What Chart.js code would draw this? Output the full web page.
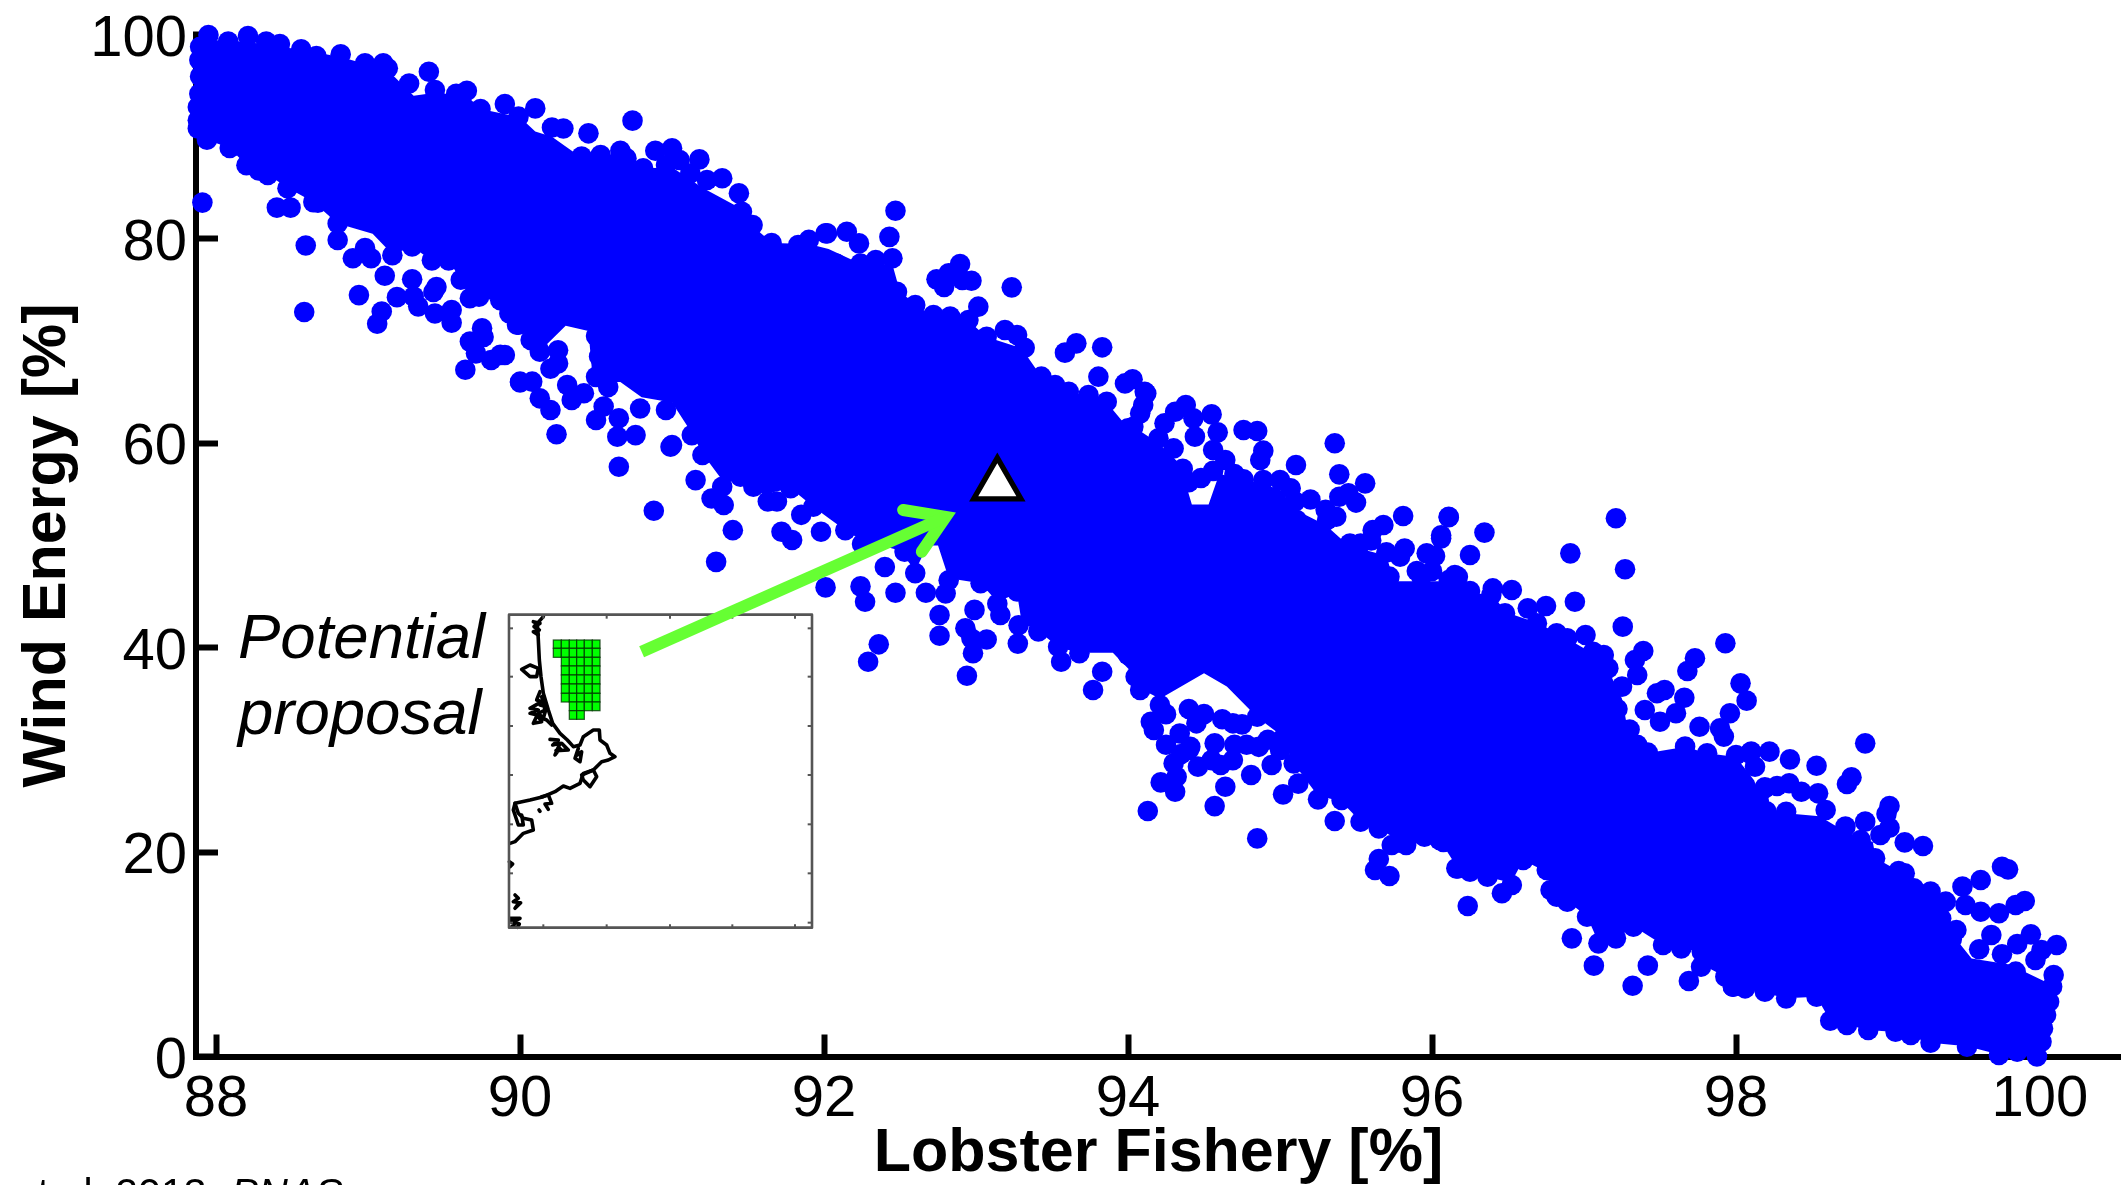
<!DOCTYPE html>
<html>
<head>
<meta charset="utf-8">
<title>Lobster Fishery vs Wind Energy</title>
<script src="https://cdn.jsdelivr.net/npm/chart.js@4"></script>
<style>
  html, body { margin: 0; padding: 0; background: #fff; overflow: hidden; }
  canvas { display: block; }
</style>
</head>
<body>
<canvas id="chart" width="2121" height="1185"></canvas>
<script>
const xTicks = [88, 90, 92, 94, 96, 98, 100];
const yTicks = [0, 20, 40, 60, 80, 100];

// individual dots, left to right along the cloud
const dots88to90 = [
  [87.95,99.95],[88.08,99.3],[88.21,99.85],[88.33,99.3],[88.42,99.07],[88.56,98.55],[88.66,97.9],[88.82,98.06],
  [88.98,97.18],[89.10,97.18],[89.13,96.7],[89.27,95.2],[89.40,96.36],[89.44,94.57],[89.58,94.2],[89.65,94.5],
  [89.74,92.7],[89.90,93.2],[89.99,91.96],[87.895,98.8],[87.89,97.5],[87.895,95.9],[87.89,94.2],[87.88,92.9],
  [87.88,91.6],[87.88,90.8],[87.94,89.7],[88.09,88.9],[88.20,87.2],[88.28,86.7],[88.34,86.25],[88.47,84.95],
  [88.40,83.06],[88.49,83.06],[88.64,83.6],[88.67,83.55],[88.80,81.5],[88.80,79.9],[88.98,79.1],[88.90,78.1],
  [89.02,78.1],[89.16,78.4],[89.11,76.4],[89.29,76.05],[89.29,79.25],[89.42,77.9],[89.45,75.3],[89.43,74.8],
  [89.19,74.3],[89.30,74.35],[89.33,73.4],[88.94,74.5],[89.09,72.9],[89.06,71.7],[89.44,72.7],[89.55,73.05],
  [89.55,71.8],[88.59,79.35],[88.58,72.85],[87.91,83.55],[89.67,69.95],[89.75,71.25],[89.76,70.4],[89.71,68.8],
  [89.81,68.15],[89.87,68.65],[89.64,67.2],[90.0,65.95],[89.67,74.2],[89.73,74.35],[89.87,74.0],[89.93,72.7],
  [89.99,71.6],[89.53,77.9],[89.61,76.0]
];
const dots90to92 = [
  [90.10,92.77],[90.21,90.9],[90.285,90.8],[90.45,90.33],[90.405,88.05],[90.53,88.2],[90.66,88.63],[90.70,87.9],
  [90.81,86.9],[90.74,91.57],[90.89,88.63],[91.00,88.86],[91.05,87.72],[91.18,87.78],[91.33,85.93],[91.23,85.76],
  [90.96,87.23],[91.12,86.4],[91.44,84.46],[91.46,82.66],[91.53,81.36],[91.655,79.6],[91.83,79.4],[91.90,79.9],
  [89.90,68.64],[90.00,66.03],[90.08,66.03],[90.13,64.4],[90.20,63.26],[90.24,60.88],[90.65,57.7],[90.88,53.4],
  [91.40,51.5],[91.29,48.4],[91.72,51.35],[91.79,50.54],[91.85,53.0],[91.98,51.35],[90.76,60.8],[90.64,60.65],
  [90.50,62.28],[90.55,63.6],[90.65,62.45],[90.79,63.4],[91.00,59.83],[90.99,59.67],[90.96,63.26],[90.34,64.24],
  [90.42,64.9],[90.31,65.7],[90.20,67.3],[90.13,68.97],[90.07,70.1],[89.98,71.6],[90.25,67.82],[90.25,69.1],
  [91.13,60.8],[91.20,58.85],[91.155,56.4],[91.26,54.6],[91.34,53.96],[91.33,55.75],[91.535,55.75],[91.63,54.3],
  [91.69,54.3],[91.78,55.6],[91.45,56.73],[91.93,53.8],[90.5,70.5],[90.52,68.5],[90.5,66.5],[90.58,65.5]
];
const dots92to94 = [
  [92.01,80.55],[92.02,80.54],[92.15,80.7],[92.23,79.56],[92.47,82.76],[92.43,80.2],[92.45,78.1],[92.34,77.93],
  [92.24,77.6],[92.08,77.6],[92.48,74.83],[92.60,73.53],[92.72,72.55],[92.83,72.4],[92.95,72.06],[93.015,73.37],
  [92.74,76.04],[92.79,75.3],[92.82,76.63],[92.895,77.54],[92.91,75.98],[92.97,75.9],[93.235,75.26],[93.07,70.43],
  [93.19,71.08],[93.27,70.6],[93.32,69.35],[93.585,68.87],[93.66,69.78],[93.83,69.39],[93.805,66.52],[93.43,66.52],
  [93.52,65.7],[93.61,65.05],[93.74,64.72],[93.86,64.07],[93.98,65.86],[94.03,66.26],[94.12,64.88],[94.0,61.46],
  [94.08,62.93],[92.01,45.9],[92.14,51.5],[92.25,50.14],[92.40,47.9],[92.24,46.0],[92.27,44.5],[92.47,45.38],
  [92.67,45.38],[92.60,47.3],[92.53,49.4],[92.36,40.33],[92.29,38.63],[92.76,41.17],[92.76,43.2],[92.80,45.3],
  [92.82,46.6],[92.94,37.26],[92.98,39.45],[92.99,43.7],[92.93,41.9],[93.07,40.8],[92.97,40.9],[93.16,43.2],
  [93.275,40.4],[93.28,42.2],[93.41,41.6],[93.56,38.63],[93.54,40.1],[93.68,39.45],[93.77,35.86],[93.83,37.65],
  [94.0,39.3],[94.05,37.16],[94.13,37.16],[93.27,45.5],[93.03,46.3],[93.14,44.3]
];
const dots94to96 = [
  [94.11,65.05],[94.10,63.74],[94.035,61.62],[94.24,61.95],[94.31,63.09],[94.38,63.74],[94.43,62.44],[94.44,60.65],
  [94.55,62.83],[94.59,61.07],[94.56,59.34],[94.64,58.36],[94.76,61.3],[94.85,61.2],[94.89,59.28],[94.87,58.36],
  [95.105,57.87],[95.36,60.0],[95.39,56.96],[95.56,56.08],[94.76,56.47],[94.89,56.4],[95.0,56.4],[95.07,55.59],
  [95.10,54.3],[95.39,54.77],[95.45,55.1],[95.50,54.2],[95.37,52.82],[95.31,52.5],[95.68,52.0],[95.61,51.5],
  [95.81,52.88],[96.11,52.82],[96.06,51.0],[95.82,49.7],[95.70,49.33],[95.79,48.9],[95.965,49.23],[96.02,48.97],
  [95.72,46.95],[95.93,46.95],[96.11,46.62],[95.53,50.2],[95.46,50.2],[96.17,46.95],[95.11,52.5],[94.08,35.86],
  [94.21,34.39],[94.15,32.76],[94.17,31.94],[94.34,31.6],[94.30,28.68],[94.32,27.38],[94.215,26.82],[94.31,25.9],
  [94.13,24.02],[94.46,28.36],[94.57,30.64],[94.61,28.52],[94.64,26.4],[94.57,24.5],[94.78,30.5],[94.86,30.3],
  [94.81,27.54],[94.945,28.52],[94.85,21.34],[94.69,32.6],[94.85,33.25],[95.02,31.13],[95.09,28.68],[95.02,25.65],
  [95.12,26.7],[95.25,25.16],[95.36,23.04],[95.53,22.97],[95.65,22.32],[95.735,20.69],[95.83,20.69],[95.95,21.5],
  [96.05,21.18],[96.17,20.53],[95.65,19.32],[95.625,18.25],[95.72,17.66],[96.17,18.41],[95.405,25.1],[95.99,23.79],
  [94.41,30.3],[94.69,29.0],[94.3,59.5],[94.36,57.5],[94.56,57.3],[94.7,57],[94.2,60.5],[95.2,54.5],
  [95.3,53.5],[95.6,50.5],[95.9,47.5],[96.0,47.5],[94.25,33.5],[94.4,34],[94.45,32.6],[94.5,33.5],
  [94.62,33],[94.75,32.5],[94.4,30],[94.55,29],[94.7,30.5],[94.92,31],[95.0,30],[94.35,29.6],[94.25,30.5],
  [94.48,56.6],[94.4,56.2]
];
const dots96to98 = [
  [96.11,52.76],[96.06,50.7],[96.345,51.26],[96.25,49.07],[97.21,52.66],[96.91,49.23],[97.27,47.67],[96.94,44.5],
  [97.255,42.06],[97.93,40.43],[96.15,47.1],[96.25,45.55],[96.39,45.16],[96.525,45.65],[96.63,43.85],[96.75,44.08],
  [96.48,43.36],[96.69,42.39],[96.82,41.41],[96.89,40.92],[97.01,41.24],[97.06,39.6],[97.13,39.29],[97.16,38.0],
  [97.39,39.68],[97.335,38.8],[97.35,37.33],[97.25,36.19],[97.73,38.96],[97.68,37.72],[98.03,36.51],[98.07,34.82],
  [97.53,35.86],[97.48,35.54],[97.66,35.11],[97.605,33.58],[97.50,32.76],[97.40,33.9],[97.76,32.27],[97.96,33.58],
  [97.92,31.3],[97.895,32.11],[97.42,29.73],[97.665,30.32],[97.81,29.66],[98.0,29.5],[96.93,37.66],[96.74,38.63],
  [96.16,18.41],[96.25,18.09],[96.365,17.6],[96.525,16.78],[96.46,15.97],[96.235,14.73],[96.60,19.23],[96.78,16.29],
  [96.82,15.64],[96.89,15.15],[97.02,13.68],[96.92,11.56],[97.095,11.07],[97.21,11.56],[97.065,8.89],[97.42,8.89],
  [97.32,6.93],[97.69,7.39],[97.325,12.7],[97.52,10.91],[97.64,10.58],[97.775,10.26],[97.77,8.79],[97.93,7.81],
  [97.98,6.83],[96.755,18.25],[96.075,21.0],[96.4,45.8],[97.22,34],[97.3,32],[97.35,30.5]
];
const dots98to100 = [
  [98.10,29.83],[98.125,28.36],[98.22,29.83],[98.19,26.24],[98.355,29.07],[98.53,28.45],[98.85,30.64],[98.76,27.31],
  [98.73,26.66],[98.09,29.66],[98.19,26.33],[98.27,26.47],[98.35,26.73],[98.43,25.91],[98.54,25.75],[98.59,24.12],
  [98.33,23.95],[98.22,23.3],[98.72,22.49],[98.85,22.98],[99.01,24.51],[98.99,23.73],[99.01,22.39],[98.95,21.67],
  [99.11,20.95],[99.23,20.6],[98.915,19.39],[99.07,18.15],[99.11,17.92],[99.17,16.45],[99.28,16.13],[99.38,15.15],
  [99.49,16.62],[99.61,17.27],[99.75,18.57],[99.79,18.31],[99.51,14.82],[99.61,14.17],[99.73,14.01],[99.84,14.82],
  [99.90,15.21],[99.68,11.89],[99.85,11.0],[99.94,11.95],[100.01,10.42],[100.11,10.91],[99.97,9.44],[99.84,8.3],
  [100.09,7.97],[100.08,6.83],[100.06,5.36],[100.04,4.06],[100.02,2.75],[100.01,1.45],[99.98,0.0],[99.85,0.47],
  [99.73,0.15],[99.52,0.96],[99.28,1.35],[99.15,2.1],[99.05,2.43],[98.87,2.59],[98.73,3.08],[98.62,3.5],
  [98.53,5.85],[98.33,5.69],[98.19,6.34],[98.06,6.67],[97.98,6.83],[99.45,12.38],[98.82,21.18],[99.35,13.5],
  [99.42,11.5],[98.15,25],[98.2,24],[99.6,10.5],[99.75,10]
];

// the merged middle of the cloud, upper and lower limit
const coreTop = [
  [87.9,99.5],[88.2,99.3],[88.56,98.5],[88.82,97.8],[89.13,96.5],[89.3,94],[89.44,94.3],[89.65,94],[89.74,92.7],[90.0,91.9],
  [90.1,90.5],[90.21,90],[90.4,88],[90.66,88.3],[90.8,86.9],[91.0,87],[91.2,85],[91.45,83],[91.55,81],[91.66,79.6],
  [91.9,79.5],[92.03,79],[92.25,77.5],[92.45,77.5],[92.5,74.8],[92.7,72.5],[92.95,72],[93.07,70.4],[93.3,69.3],[93.43,66.5],
  [93.61,65],[93.74,64.7],[93.86,64],[94.0,61.5],[94.04,61.6],[94.2,60],[94.34,58],[94.42,54],[94.53,54],[94.6,57],
  [94.76,56.5],[95.0,55.5],[95.1,53.5],[95.3,52],[95.45,50],[95.7,49],[95.75,46.5],[95.93,46.5],[96.15,46.5],[96.25,45.5],
  [96.4,45],[96.5,43.4],[96.7,42.4],[96.9,40.8],[97.05,39.5],[97.16,37.8],[97.25,35],[97.3,31],[97.42,29.7],[97.67,30.3],
  [97.8,29.7],[98.0,29.3],[98.12,27],[98.2,23.3],[98.33,23.8],[98.55,23.5],[98.72,22],[98.9,21],[98.92,19.4],[99.1,17.9],
  [99.28,16],[99.38,15],[99.42,12],[99.55,9.6],[99.8,9],[100.08,7]
];
const coreBottom = [
  [87.9,90.5],[87.94,89.7],[88.09,88.9],[88.2,87.2],[88.34,86.3],[88.47,85],[88.64,83.6],[88.8,81.5],[89.03,80.5],[89.16,78.5],
  [89.29,79.2],[89.42,77.9],[89.53,77.9],[89.61,76],[89.67,74.2],[89.87,74],[89.93,72.7],[89.99,71.6],[90.07,70.1],[90.13,69],
  [90.3,71.5],[90.45,71],[90.48,66],[90.66,66],[90.8,64.5],[91,64],[91.13,61],[91.2,59],[91.35,56],[91.45,56.7],
  [91.6,55],[91.78,55.6],[91.93,53.8],[92.0,53],[92.14,51.5],[92.25,50.5],[92.5,49.5],[92.6,47.5],[92.68,50],[92.75,50],
  [92.82,46.8],[93.03,46.3],[93.14,44.5],[93.27,45.3],[93.3,42.5],[93.41,41.6],[93.55,40],[93.68,39.5],[93.9,39.5],[94.05,37.2],
  [94.08,36],[94.21,35],[94.5,37.5],[94.65,36.2],[94.85,33.2],[95.0,31.5],[95.09,28.7],[95.25,25.5],[95.4,25],[95.53,23],
  [95.65,22.3],[95.83,20.7],[96.05,21.2],[96.17,18.4],[96.36,17.6],[96.52,17],[96.6,19.2],[96.76,18],[96.8,15.6],[96.9,15.1],
  [97.02,13.7],[97.1,11],[97.21,11.6],[97.33,12.7],[97.52,10.9],[97.64,10.6],[97.78,10.2],[97.8,8.8],[97.93,7.8],[98.06,6.7],
  [98.33,5.7],[98.53,5.85],[98.62,3.5],[98.87,2.6],[99.05,2.4],[99.28,1.35],[99.52,1],[99.73,0.2],[99.98,0],[100.02,2.7],
  [100.06,5.4],[100.08,7]
];

// the proposal marker and the arrow that points at it
const proposal = [[93.14, 55.9]];
const arrowShaft = [[90.80,39.6],[92.80,52.8]];
const arrowHead = [[92.52,53.47],[92.80,52.8],[92.643,49.39]];

// inset map, in the units of the 3x crop of its area
const insetTicksX = [190, 380, 570, 757, 945];
const insetTicksY = [145, 290, 438, 585, 733, 880, 1028];
const gridColEdges = [220, 244, 268, 290, 313, 337, 360];
const gridRowEdges = [180, 205, 232, 258, 285, 312, 340, 366, 392, 418];
const gridRowStart = [0, 0, 1, 1, 1, 1, 1, 2, 2];
const gridRowEnd = [6, 6, 6, 6, 6, 6, 6, 6, 4];
const coastMain = [[190,110],[172,130],[175,180],[178,240],[183,290],[190,340],[205,390],[218,430],[240,460],[262,480],[280,500],[300,495],[310,470],[340,450],[358,450],[360,480],[380,495],[390,520],[405,530],[385,540],[365,545],[340,570],[310,580],[300,610],[270,625],[250,618],[225,635],[190,650],[150,660],[105,670],[115,700],[130,715],[155,720],[160,750],[130,760],[105,785],[90,790]];
const coastIslands = [
  [[160,125],[180,130],[162,140],[178,150],[160,155],[175,165],[165,130]],
  [[125,268],[150,255],[175,265],[170,290],[150,290],[125,268]],
  [[180,335],[170,360],[185,365],[150,385],[175,390],[150,400],[172,405],[160,430],[185,425],[175,410],[200,420],[215,435]],
  [[185,350],[195,390],[175,400],[190,415],[200,380],[180,375]],
  [[210,478],[235,480],[218,495],[240,490],[225,525],[240,505],[228,512],[265,510],[245,490],[255,500]],
  [[295,505],[285,535],[300,545],[305,515],[292,525]],
  [[305,585],[340,570],[350,590],[330,620],[310,600],[305,585]],
  [[185,650],[205,645],[215,670],[195,672],[205,688]],
  [[105,670],[100,690],[115,735],[130,735],[125,705]],
  [[88,845],[98,852],[90,860]],
  [[105,945],[115,955],[100,965],[122,968],[105,985],[112,975]],
  [[90,1015],[120,1015],[100,1025],[118,1032],[112,1042],[95,1040],[105,1030],[90,1025]],
  [[177,690],[180,694]]
];

const xyPoints = list => list.map(p => ({ x: p[0], y: p[1] }));

const insetPlugin = {
  id: "inset",
  beforeDatasetsDraw(chart) {
    const ctx = chart.ctx;
    const px = v => 480 + v / 3;
    const py = v => 580 + v / 3;
    ctx.save();
    ctx.fillStyle = "#fff";
    ctx.fillRect(px(87), py(104), 303, 313);

    // proposal cells
    gridRowStart.forEach((start, r) => {
      for (let c = start; c < gridRowEnd[r]; c++) {
        ctx.fillStyle = "#00ff00";
        ctx.fillRect(px(gridColEdges[c]), py(gridRowEdges[r]), (gridColEdges[c + 1] - gridColEdges[c]) / 3, (gridRowEdges[r + 1] - gridRowEdges[r]) / 3);
        ctx.strokeStyle = "rgba(0,50,0,0.75)";
        ctx.lineWidth = 1.3;
        ctx.strokeRect(px(gridColEdges[c]), py(gridRowEdges[r]), (gridColEdges[c + 1] - gridColEdges[c]) / 3, (gridRowEdges[r + 1] - gridRowEdges[r]) / 3);
      }
    });

    // coast
    ctx.strokeStyle = "#000";
    ctx.lineJoin = "round";
    ctx.lineCap = "round";
    ctx.lineWidth = 3.6;
    [coastMain].concat(coastIslands).forEach(path => {
      ctx.beginPath();
      path.forEach((p, i) => {
        if (i === 0) ctx.moveTo(px(p[0]), py(p[1]));
        else ctx.lineTo(px(p[0]), py(p[1]));
      });
      ctx.stroke();
    });

    // frame and its small ticks
    ctx.strokeStyle = "#555";
    ctx.lineWidth = 2.6;
    ctx.lineCap = "butt";
    ctx.strokeRect(px(87), py(104), 303, 313);
    ctx.lineWidth = 2;
    insetTicksX.forEach(t => {
      ctx.beginPath(); ctx.moveTo(px(t), py(104)); ctx.lineTo(px(t), py(104) + 4); ctx.stroke();
      ctx.beginPath(); ctx.moveTo(px(t), py(1045)); ctx.lineTo(px(t), py(1045) - 4); ctx.stroke();
    });
    insetTicksY.forEach(t => {
      ctx.beginPath(); ctx.moveTo(px(87), py(t)); ctx.lineTo(px(87) + 4, py(t)); ctx.stroke();
      ctx.beginPath(); ctx.moveTo(px(995), py(t)); ctx.lineTo(px(995) - 4, py(t)); ctx.stroke();
    });
    ctx.restore();
  },
  afterDraw(chart) {
    const ctx = chart.ctx;
    ctx.save();
    ctx.fillStyle = "#000";
    ctx.textAlign = "left";
    ctx.textBaseline = "alphabetic";
    ctx.font = "italic 63.5px 'Liberation Sans'";
    ctx.fillText("Potential", 238, 658);
    ctx.fillText("proposal", 238, 734);
    ctx.font = "41px 'Liberation Sans'";
    ctx.fillText("et al. 2013, ", 15, 1207);
    ctx.font = "italic 41px 'Liberation Sans'";
    ctx.fillText("PNAS", 231, 1207);
    ctx.restore();
  }
};

const allDots = [].concat(dots88to90, dots90to92, dots92to94, dots94to96, dots96to98, dots98to100);

// labels stick out of the plot box, keep them from shrinking it
function noScalePadding(scale) {
  scale.paddingLeft = 0;
  scale.paddingRight = 0;
  scale.paddingTop = 0;
  scale.paddingBottom = 0;
}

new Chart(document.getElementById("chart"), {
  type: "scatter",
  data: {
    datasets: [
      { type: "line", data: xyPoints(coreTop), fill: "+1", backgroundColor: "#0000ff", borderWidth: 0, pointRadius: 0, tension: 0, order: 5 },
      { type: "line", data: xyPoints(coreBottom), fill: false, borderWidth: 0, pointRadius: 0, tension: 0, order: 6 },
      { data: xyPoints(allDots), backgroundColor: "#0000ff", borderWidth: 0, pointRadius: 10.3, clip: false, order: 4 },
      { type: "line", data: xyPoints(arrowShaft), borderColor: "#66ff33", borderWidth: 12, borderCapStyle: "butt", pointRadius: 0, fill: false, order: 2 },
      { type: "line", data: xyPoints(arrowHead), borderColor: "#66ff33", borderWidth: 12, borderCapStyle: "round", borderJoinStyle: "miter", pointRadius: 0, fill: false, order: 2 },
      { data: xyPoints(proposal), pointStyle: "triangle", pointRadius: 27.3, backgroundColor: "#fff", borderColor: "#000", borderWidth: 5.3, clip: false, order: 1 }
    ]
  },
  options: {
    responsive: false,
    animation: false,
    layout: { autoPadding: false, padding: { top: 34.5, left: 0, right: 0, bottom: 0 } },
    plugins: { legend: { display: false }, tooltip: { enabled: false } },
    scales: {
      x: {
        type: "linear",
        min: 87.868,
        max: 100.533,
        afterFit(scale) { scale.height = 128.5; noScalePadding(scale); },
        afterBuildTicks(scale) { scale.ticks = xTicks.map(v => ({ value: v })); },
        border: { display: true, color: "#000", width: 6 },
        grid: { drawOnChartArea: false, drawTicks: true, tickLength: -22, tickWidth: 6, tickColor: "#000" },
        ticks: { autoSkip: false, maxRotation: 0, padding: 31, color: "#000", font: { family: "'Liberation Sans'", size: 58 } },
        title: { display: true, text: "Lobster Fishery [%]", color: "#000", font: { family: "'Liberation Sans'", size: 61, weight: "bold" }, padding: { top: 0, bottom: -6 } }
      },
      y: {
        type: "linear",
        min: 0,
        max: 100,
        afterFit(scale) { scale.width = 196; noScalePadding(scale); },
        afterBuildTicks(scale) { scale.ticks = yTicks.map(v => ({ value: v })); },
        border: { display: true, color: "#000", width: 6 },
        grid: { drawOnChartArea: false, drawTicks: true, tickLength: -22, tickWidth: 6, tickColor: "#000" },
        ticks: { autoSkip: false, padding: 31, labelOffset: 5, color: "#000", font: { family: "'Liberation Sans'", size: 58 } },
        title: { display: true, text: "Wind Energy [%]", color: "#000", font: { family: "'Liberation Sans'", size: 61, weight: "bold" }, padding: { top: 12, bottom: 0 } }
      }
    }
  },
  plugins: [insetPlugin]
});
</script>
</body>
</html>
